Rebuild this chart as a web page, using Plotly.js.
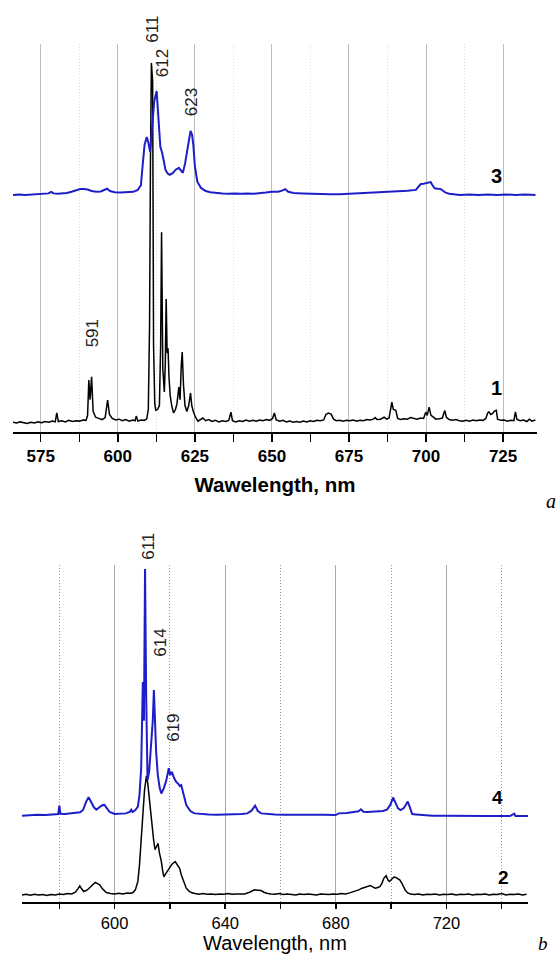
<!DOCTYPE html>
<html>
<head>
<meta charset="utf-8">
<script src="https://cdn.plot.ly/plotly-3.0.1.min.js"></script>
<style>html,body{margin:0;padding:0;background:#fff;}#chart{width:558px;height:956px;}</style>
</head>
<body>
<div id="chart"></div>
<script>
// ---------- Panel a, curve 1 (black) ----------
const waveA1 = [566.0,567.2,568.3,569.5,570.6,571.8,573.0,574.1,575.3,576.4,577.6,578.8,579.7,580.2,580.7,581.8,583.0,584.1,585.3,586.4,587.6,588.7,589.7,590.2,590.6,591.0,591.5,592.0,592.8,593.8,594.9,595.9,596.7,597.3,598.2,599.3,600.4,601.5,602.6,603.7,604.8,605.6,606.0,606.5,607.5,608.6,609.4,609.9,610.3,610.6,610.9,611.3,611.6,612.0,612.3,612.9,613.5,613.9,614.2,614.6,615.1,615.4,615.7,616.0,616.3,616.6,617.0,617.5,618.1,618.7,619.2,619.8,620.2,620.6,620.9,621.3,621.8,622.4,623.0,623.6,624.0,624.5,625.2,626.0,626.8,627.6,628.5,629.5,630.6,631.7,632.8,633.9,635.0,636.0,636.7,637.2,638.3,639.4,640.5,641.6,642.7,643.8,644.9,646.0,647.1,648.2,649.3,650.2,650.8,651.4,652.5,653.6,654.7,655.8,656.9,658.0,659.1,660.2,661.3,662.4,663.5,664.6,665.7,666.8,667.5,668.3,669.2,670.0,670.9,672.0,673.1,674.2,675.3,676.4,677.5,678.6,679.7,680.8,681.9,682.9,683.5,684.1,685.2,686.4,687.2,688.0,688.6,688.9,689.4,690.2,690.8,691.7,692.8,693.9,695.0,696.0,697.1,698.2,699.2,699.9,700.4,701.0,701.6,702.3,703.2,704.3,705.3,705.8,706.1,706.6,707.5,708.6,709.7,710.8,711.9,713.0,714.1,715.2,716.3,717.4,718.5,719.4,720.0,720.4,721.0,721.6,722.2,722.8,723.2,724.2,725.3,726.4,727.5,728.5,729.0,729.5,730.5,731.6,732.7,733.5,734.3,735.5];
const intA1 = [0.2,0.0,0.3,0.1,-0.1,0.2,0.0,0.3,0.1,0.4,0.2,0.5,0.3,2.6,0.4,0.6,0.3,0.7,0.4,0.6,0.5,0.8,0.7,2.0,11.1,6.0,11.9,3.0,1.5,1.2,0.9,1.4,5.9,2.2,1.2,0.8,1.0,0.6,0.9,0.5,0.8,0.6,1.8,0.5,0.8,0.7,1.1,3.5,25,67.8,92.8,88,20,5,3.3,3.5,4.5,20,49.2,14,8,15,32,18,19.3,12,7,4.5,2.6,3.5,5,9.3,6,15,18.3,10,4.5,3.0,4.5,7.7,4.5,3.0,1.5,0.5,0.9,1.3,0.6,0.9,0.4,0.7,0.3,0.6,0.4,0.7,2.8,0.6,0.3,0.6,0.4,0.8,0.5,0.7,0.5,0.8,0.6,0.9,0.7,1.2,2.6,0.8,0.5,0.7,0.3,0.5,0.2,0.4,0.2,0.5,0.3,0.6,0.4,0.7,0.6,0.8,2.2,2.6,2.3,1.0,0.6,0.7,0.5,0.7,0.6,0.8,0.5,0.7,0.6,0.9,0.8,1.0,1.4,0.9,1.0,1.5,1.0,1.3,4.0,5.4,3.5,3.3,1.2,0.9,1.1,1.0,1.4,1.2,1.0,1.3,1.2,2.8,2.0,4.1,2.0,1.6,1.0,1.1,1.3,2.6,3.2,1.5,0.9,0.7,0.9,0.6,0.5,0.7,0.5,0.8,0.6,0.8,0.7,1.2,2.6,2.9,2.2,2.5,3.1,3.3,1.0,0.7,0.8,0.5,0.7,0.6,2.9,0.9,0.6,0.8,0.4,1.0,0.5,0.8];

// ---------- Panel a, curve 3 (blue) ----------
const waveA3 = [566.0,568.0,570.0,572.0,574.0,576.0,577.5,578.4,579.2,580.5,582.0,583.5,585.0,586.5,587.8,589.0,590.2,591.5,593.0,594.5,595.5,596.5,597.5,599.0,601.0,603.0,605.0,606.5,607.5,608.1,608.7,609.4,609.9,610.5,611.2,611.8,612.6,613.2,613.8,614.4,615.0,615.5,616.2,616.8,617.8,618.8,619.8,620.5,621.1,621.8,622.5,623.1,623.6,624.1,624.5,625.0,625.8,627.0,628.5,630.0,632.0,634.0,636.0,638.0,640.0,642.0,644.0,646.0,648.0,650.0,652.0,653.3,654.3,655.3,657.0,660.0,663.0,666.0,669.0,672.0,675.0,678.0,681.5,685.0,688.0,691.3,694.0,696.7,697.5,698.3,699.2,700.2,701.5,702.1,702.8,703.8,704.8,705.6,706.4,707.5,709.0,711.0,714.0,717.0,720.0,723.0,726.0,729.0,732.0,735.5];
const intA3 = [0.0,0.1,0.0,0.1,0.2,0.3,0.4,0.8,0.4,0.3,0.4,0.5,0.8,1.2,1.5,1.5,1.4,1.0,0.8,0.9,1.2,1.6,1.0,0.7,0.6,0.7,0.8,1.3,2.5,8.0,13.0,14.9,13.5,11.1,17.0,24.0,26.8,20.0,12.4,10.8,8.5,6.4,5.5,5.2,5.6,6.5,7.0,6.2,5.7,8.0,11.6,15.0,16.5,15.5,12.9,7.5,3.4,1.8,1.0,0.7,0.5,0.4,0.3,0.4,0.3,0.4,0.3,0.4,0.6,0.8,0.8,1.1,1.5,0.8,0.5,0.4,0.3,0.2,0.2,0.2,0.3,0.4,0.6,0.7,0.9,1.0,1.1,1.3,2.0,2.8,2.9,3.0,3.3,2.5,1.7,1.6,1.5,1.0,0.6,0.3,0.1,0.0,0.1,0.0,0.1,0.0,0.1,0.0,0.1,0.0];

// ---------- Panel b, curve 4 (blue) ----------
const waveB4 = [566.5,569.0,572.0,575.0,578.0,579.6,580.0,580.4,582.0,584.0,586.0,587.5,588.6,589.7,590.6,591.5,592.5,593.4,594.5,595.5,596.3,597.2,598.2,600.0,602.0,604.0,605.5,606.0,606.5,607.5,608.4,609.0,609.6,610.2,610.6,611.0,611.4,611.9,612.5,613.2,613.8,614.2,614.6,615.0,615.6,616.3,616.9,617.8,618.6,619.2,619.6,620.1,620.7,621.5,622.3,622.9,623.6,624.1,624.8,625.9,627.0,627.7,629.0,631.0,634.0,637.0,640.0,643.0,646.0,648.0,649.5,650.8,651.8,653.0,655.0,658.0,661.0,664.0,667.0,670.0,673.0,676.0,679.9,681.1,684.0,686.5,688.2,689.1,690.0,691.5,693.0,695.0,697.0,698.5,699.7,700.7,701.6,702.5,703.4,704.5,705.3,706.0,706.7,707.6,709.0,711.0,712.6,715.0,720.0,725.0,730.0,735.0,740.0,743.0,744.5,745.0,749.5];
const intB4 = [-0.2,0.0,0.1,0.0,0.2,0.3,2.8,0.4,0.3,0.4,0.6,0.8,1.5,4.0,5.3,3.8,2.3,1.6,2.2,2.9,3.0,2.0,0.9,0.3,0.3,0.5,0.9,1.6,0.9,1.5,2.5,6.0,14.0,39.5,28.0,73.0,36.0,10.4,13.0,20.0,28.0,37.1,27.0,19.0,12.0,8.0,6.4,8.0,10.0,12.0,13.9,11.9,12.8,11.0,9.8,9.4,8.6,8.9,6.5,3.0,1.6,1.0,0.5,0.3,0.2,0.1,0.1,0.2,0.3,0.5,1.3,2.8,1.2,0.5,0.3,0.2,0.1,0.2,0.1,0.1,0.2,0.1,0.0,0.5,0.6,0.8,1.1,1.7,1.0,0.9,1.0,1.1,1.2,1.6,3.0,5.2,3.5,2.0,1.5,2.0,3.0,4.0,2.5,0.3,0.2,0.1,0.0,-0.2,-0.2,-0.3,-0.3,-0.3,-0.3,-0.3,0.4,-0.3,-0.3];

// ---------- Panel b, curve 2 (black) ----------
const waveB2 = [566.5,568.0,569.5,571.0,572.5,574.0,575.5,577.0,578.5,580.0,581.5,583.0,584.5,585.8,586.7,587.4,588.0,588.8,590.0,591.2,592.2,593.0,594.0,594.6,595.6,597.0,598.5,600.0,601.5,603.0,604.5,606.0,606.6,607.5,608.4,609.0,609.6,610.2,610.8,611.5,612.0,612.6,613.3,614.1,614.6,615.2,615.7,616.2,616.9,617.4,617.8,618.5,619.3,620.1,620.8,621.9,622.6,623.5,624.1,624.7,625.3,625.9,626.8,627.7,629.0,630.5,632.0,633.5,635.0,636.5,638.0,639.5,641.0,642.5,644.0,645.5,647.0,648.8,649.8,650.6,651.8,653.0,654.0,655.0,656.5,658.0,659.5,661.0,662.5,664.0,665.5,667.0,668.5,670.0,671.5,673.0,674.5,676.0,677.5,679.0,680.5,682.0,683.5,685.0,686.0,687.1,688.3,689.5,690.8,692.5,693.5,694.3,695.2,696.0,696.7,697.4,698.2,698.8,699.4,700.2,701.0,701.6,702.3,703.1,703.8,704.5,705.2,706.0,707.0,708.5,710.0,711.5,713.0,714.5,716.0,717.5,719.0,720.5,722.0,723.5,725.0,726.5,728.0,729.5,731.0,732.5,734.0,735.5,737.0,738.5,740.0,741.5,743.0,744.5,746.0,747.5,749.0];
const intB2 = [0.0,0.2,-0.1,0.2,0.0,0.1,-0.2,0.1,0.0,0.3,0.1,0.4,0.3,0.8,1.8,2.7,1.9,1.0,1.4,2.4,3.2,3.7,3.3,3.0,1.8,0.7,0.4,0.3,0.5,0.3,0.6,0.5,0.7,1.5,4.0,9.0,16.3,24.0,31.0,35.3,33.0,28.2,22.0,16.3,13.4,14.5,15.3,12.5,9.9,7.0,5.4,6.3,7.4,8.3,9.2,9.9,9.0,7.9,6.0,4.5,3.0,2.0,1.2,0.7,0.4,0.2,0.4,0.2,0.3,0.1,0.3,0.2,0.4,0.2,0.3,0.4,0.3,0.8,1.3,1.5,1.4,1.3,0.8,0.5,0.3,0.2,0.4,0.1,0.3,0.2,0.0,0.3,0.1,0.3,0.2,0.0,0.3,0.2,0.1,0.3,0.2,0.4,0.3,0.6,0.9,1.0,1.5,2.0,2.4,2.8,2.3,2.0,2.2,2.5,3.5,5.0,5.7,4.5,4.0,4.8,5.3,5.2,4.9,4.5,3.6,2.5,1.3,0.6,0.3,0.1,0.3,0.0,0.2,0.1,0.3,0.0,0.2,0.1,0.3,0.0,0.2,0.1,0.3,0.0,0.2,0.1,0.3,0.0,0.2,0.1,0.4,0.0,0.2,0.1,0.3,0.0,0.2];

// tick values
const ticksA = [575, 600, 625, 650, 675, 700, 725];
const ticksB = [600, 640, 680, 720];

// peak labels
const peakLabelsA = ['611', '612', '623', '591'];
const peakLabelsB = ['611', '614', '619'];
const curveLabelsA = ['3', '1'];
const curveLabelsB = ['4', '2'];

// vertical stacking offsets (axis units)
const offA1 = 2.3, offA3 = 61.1, offB2 = 2.1, offB4 = 25.8;

const BLUE = '#1e1ec8';
const FONT = 'Liberation Sans, Arial, sans-serif';

function shift(arr, off){ return arr.map(v => v + off); }

const traces = [
  {x: waveA1, y: shift(intA1, offA1), xaxis:'x', yaxis:'y', type:'scatter', mode:'lines', line:{color:'#000', width:1.5}, hoverinfo:'skip'},
  {x: waveA3, y: shift(intA3, offA3), xaxis:'x', yaxis:'y', type:'scatter', mode:'lines', line:{color:BLUE, width:2}, hoverinfo:'skip'},
  {x: waveB2, y: shift(intB2, offB2), xaxis:'x2', yaxis:'y2', type:'scatter', mode:'lines', line:{color:'#000', width:1.5}, hoverinfo:'skip'},
  {x: waveB4, y: shift(intB4, offB4), xaxis:'x2', yaxis:'y2', type:'scatter', mode:'lines', line:{color:BLUE, width:2}, hoverinfo:'skip'}
];

const rotFont = {family: FONT, size: 17, color: '#222'};
const boldLab = {family: FONT, size: 20, color: '#000', weight: 'bold'};

// plot area in px: left 13, right 537, top 44, bottom 902 -> paper coords
const PL = 13, PW = 524, PB = 902, PH = 858;
const px2paperX = px => (px - PL) / PW;
const px2paperY = py => (PB - py) / PH;

const C = {xanchor:'center', yanchor:'middle', showarrow:false};

const annotations = [
  // panel a peak labels
  Object.assign({text: peakLabelsA[0], x: 611.3, y: px2paperY(29), xref:'x', yref:'paper', textangle:-90, font: rotFont}, C),
  Object.assign({text: peakLabelsA[1], x: 614.6, y: 95.0, xref:'x', yref:'y', textangle:-90, font: rotFont}, C),
  Object.assign({text: peakLabelsA[2], x: 623.9, y: 85.1, xref:'x', yref:'y', textangle:-90, font: rotFont}, C),
  Object.assign({text: peakLabelsA[3], x: 591.8, y: 25.3, xref:'x', yref:'y', textangle:-90, font: rotFont}, C),
  Object.assign({text: curveLabelsA[0], x: 723.0, y: 66.1, xref:'x', yref:'y', font: boldLab}, C),
  Object.assign({text: curveLabelsA[1], x: 722.7, y: 11.3, xref:'x', yref:'y', font: boldLab}, C),
  Object.assign({text: 'a', x: px2paperX(551), y: px2paperY(501), xref:'paper', yref:'paper',
   font: {family:'Liberation Serif, Times New Roman, serif', size: 20, style:'italic', color:'#000'}}, C),
  // panel b peak labels
  Object.assign({text: peakLabelsB[0], x: 612.0, y: px2paperY(546), xref:'x2', yref:'paper', textangle:-90, font: rotFont}, C),
  Object.assign({text: peakLabelsB[1], x: 616.7, y: 76.9, xref:'x2', yref:'y2', textangle:-90, font: rotFont}, C),
  Object.assign({text: peakLabelsB[2], x: 621.0, y: 51.6, xref:'x2', yref:'y2', textangle:-90, font: rotFont}, C),
  Object.assign({text: curveLabelsB[0], x: 738.5, y: 30.9, xref:'x2', yref:'y2', font: {family: FONT, size: 19, color:'#000', weight:'bold'}}, C),
  Object.assign({text: curveLabelsB[1], x: 740.7, y: 7.2, xref:'x2', yref:'y2', font: {family: FONT, size: 19, color:'#000', weight:'bold'}}, C),
  Object.assign({text: 'b', x: px2paperX(543), y: px2paperY(943), xref:'paper', yref:'paper',
   font: {family:'Liberation Serif, Times New Roman, serif', size: 19, style:'italic', color:'#000'}}, C)
];

const layout = {
  width: 558, height: 956,
  margin: {l: 13, r: 21, t: 44, b: 54, pad: 0},
  paper_bgcolor: '#fff', plot_bgcolor: '#fff',
  font: {family: FONT, color: '#000'},
  showlegend: false,
  xaxis: {
    domain: [0, 1], anchor: 'y', range: [566, 736],
    tickmode: 'array', tickvals: ticksA, ticktext: ticksA.map(String),
    ticks: 'outside', ticklen: 8, tickwidth: 1.5, tickcolor: '#000',
    showline: true, linewidth: 2, linecolor: '#000', mirror: false,
    showgrid: true, gridcolor: '#bdbdbd', gridwidth: 1, zeroline: false,
    tickfont: {family: FONT, size: 17, weight: 'bold', color: '#000'},
    minor: {tickmode: 'array', tickvals: [587.5, 612.5, 637.5, 662.5, 687.5, 712.5], ticks: 'outside', ticklen: 8, tickwidth: 1.5, tickcolor: '#000',
            showgrid: true, gridcolor: '#d6e4d6', griddash: '1px,2px', gridwidth: 1},
    title: {text: 'Wawelength, nm', font: {family: FONT, size: 20.5, weight: 'bold', color: '#000'}, standoff: 12}
  },
  yaxis: {domain: [0.5478, 1.0], anchor: 'x', range: [0, 100], visible: false, fixedrange: true},
  xaxis2: {
    domain: [0.01718, 0.98282], anchor: 'y2', range: [566.5, 749.5],
    tickmode: 'array', tickvals: ticksB, ticktext: ticksB.map(String),
    ticks: 'outside', ticklen: 5, tickwidth: 1.5, tickcolor: '#000',
    showline: true, linewidth: 2, linecolor: '#000',
    showgrid: true, gridcolor: '#a9a9a9', gridwidth: 1, zeroline: false,
    tickfont: {family: FONT, size: 16.5, color: '#000'},
    minor: {tickmode: 'array', tickvals: [580, 620, 660, 700, 740], ticks: 'outside', ticklen: 5, tickwidth: 1.5, tickcolor: '#000',
            showgrid: true, gridcolor: '#9a9a9a', griddash: '1px,2px', gridwidth: 1},
    title: {text: 'Wavelength, nm', font: {family: FONT, size: 20, color: '#000'}, standoff: 4}
  },
  yaxis2: {domain: [0, 0.39277], anchor: 'x2', range: [0, 100], visible: false, fixedrange: true},
  annotations: annotations
};

Plotly.newPlot('chart', traces, layout, {staticPlot: true, displayModeBar: false});
</script>
</body>
</html>
